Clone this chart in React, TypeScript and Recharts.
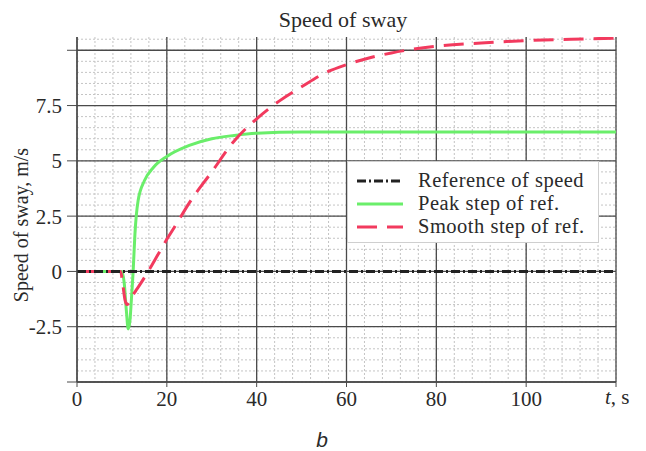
import React from 'react';
import { LineChart, Line, XAxis, YAxis, CartesianGrid, Legend, Customized } from 'recharts';

// Time samples (s) and sway speed (m/s) for each response
const peakTime = [0, 10, 10.5, 11, 11.4, 11.8, 12.1, 12.5, 12.9, 13.6, 15, 17, 20, 25, 30, 35, 40, 50, 60, 80, 100, 120];
const peakSpeed = [0, 0, -0.5, -1.8, -2.6, -2.2, -1.3, 0, 1.7, 3.2, 4.1, 4.7, 5.2, 5.7, 6.0, 6.15, 6.25, 6.3, 6.3, 6.3, 6.3, 6.3];

const smoothTime = [0, 9.7, 10.2, 10.7, 11.1, 11.6, 12.2, 13, 14, 16, 18, 20, 22, 25, 30, 35, 40, 45, 50, 55, 60, 65, 70, 80, 90, 100, 110, 120];
const smoothSpeed = [0, 0, -0.6, -1.3, -1.5, -1.4, -1.15, -0.9, -0.6, 0.05, 0.75, 1.45, 2.1, 3.1, 4.5, 5.9, 6.9, 7.7, 8.35, 8.95, 9.35, 9.65, 9.88, 10.18, 10.33, 10.44, 10.5, 10.55];

const referenceTime = [0, 120];
const referenceSpeed = [0, 0];

// Axis ticks
const xTicks = [0, 20, 40, 60, 80, 100, 120];
const yTicks = [-5, -2.5, 0, 2.5, 5, 7.5, 10];
const xMinor = Array.from({ length: 31 }, (_, i) => i * 4);
const yMinor = Array.from({ length: 32 }, (_, i) => -5 + i * 0.5);

const SERIF = '"Liberation Serif", "Times New Roman", serif';

const seriesStyles = [
  { key: 'reference', name: 'Reference of speed', color: '#222222', dash: '9 3 2 3', width: 3 },
  { key: 'peak', name: 'Peak step of ref.', color: '#6aee6a', dash: undefined, width: 3 },
  { key: 'smooth', name: 'Smooth step of ref.', color: '#f23a5e', dash: '20 10', width: 3 },
];

const toPoints = (ts: number[], vs: number[]) => ts.map((t, i) => ({ t, v: vs[i] }));
const peakData = toPoints(peakTime, peakSpeed);
const smoothData = toPoints(smoothTime, smoothSpeed);
const referenceData = toPoints(referenceTime, referenceSpeed);

const styleOf = (k: string) => seriesStyles.find((s) => s.key === k)!;

const renderLegend = () => (
  <div
    style={{
      width: 252,
      height: 82,
      boxSizing: 'border-box',
      border: '1px solid #cfcfcf',
      background: '#ffffff',
      paddingTop: 7,
    }}
  >
    {seriesStyles.map((s) => (
      <div key={s.key} style={{ display: 'flex', alignItems: 'center', height: 23 }}>
        <svg width={46} height={6} style={{ marginLeft: 9, display: 'block' }}>
          <line x1={0} y1={3} x2={46} y2={3} stroke={s.color} strokeWidth={s.width} strokeDasharray={s.dash} />
        </svg>
        <span
          style={{
            marginLeft: 15,
            fontSize: 20.5,
            letterSpacing: 0.5,
            fontFamily: SERIF,
            color: '#2a2a2a',
            lineHeight: '23px',
            whiteSpace: 'nowrap',
          }}
        >
          {s.name}
        </span>
      </div>
    ))}
  </div>
);

const Annotations = () => (
  <g fontFamily={SERIF} fill="#2a2a2a">
    <text x={343} y={27} fontSize={22} textAnchor="middle">Speed of sway</text>
    <text transform="translate(28,225) rotate(-90)" fontSize={20} textAnchor="middle">Speed of sway, m/s</text>
    <text x={605} y={404} fontSize={21}>
      <tspan fontStyle="italic">t</tspan>, s
    </text>
    <text x={322} y={447} fontSize={21} textAnchor="middle" fontStyle="italic" fontFamily='"Liberation Sans", Arial, sans-serif'>b</text>
  </g>
);

export default function App() {
  const peak = styleOf('peak');
  const smooth = styleOf('smooth');
  const ref = styleOf('reference');
  return (
    <div style={{ position: 'absolute', left: 0, top: 0, width: 646, height: 451, background: '#fff' }}>
      <LineChart width={646} height={451} margin={{ top: 37, right: 30, left: 0, bottom: 0 }}>
        <CartesianGrid
          horizontalValues={yMinor}
          verticalValues={xMinor}
          stroke="#c4c4c4"
          strokeDasharray="2 2"
          strokeWidth={1}
        />
        <CartesianGrid
          horizontalValues={yTicks}
          verticalValues={xTicks}
          stroke="#4a4a4a"
          strokeWidth={1.3}
        />
        <XAxis
          dataKey="t"
          type="number"
          domain={[0, 120]}
          ticks={xTicks}
          interval={0}
          allowDataOverflow
          height={69}
          tickSize={5}
          tickMargin={4}
          tickFormatter={(v: number) => (v === 120 ? '' : String(v))}
          tick={{ fill: '#2a2a2a', fontSize: 21, fontFamily: SERIF }}
          tickLine={{ stroke: '#4a4a4a' }}
          axisLine={{ stroke: '#4a4a4a', strokeWidth: 1.3 }}
        />
        <YAxis
          type="number"
          domain={[-5, 10.6]}
          ticks={yTicks}
          interval={0}
          allowDataOverflow
          width={77}
          tickSize={10}
          tickMargin={5}
          tickFormatter={(v: number) => (v === -5 || v === 10 ? '' : String(v))}
          tick={{ fill: '#2a2a2a', fontSize: 21, fontFamily: SERIF }}
          tickLine={{ stroke: '#4a4a4a' }}
          axisLine={{ stroke: '#4a4a4a', strokeWidth: 1.3 }}
        />
        <Legend
          layout="vertical"
          align="center"
          verticalAlign="middle"
          content={renderLegend}
          wrapperStyle={{ position: 'absolute', left: 347, top: 161, width: 252, height: 82 }}
        />
        <Line
          data={peakData}
          dataKey="v"
          name={peak.name}
          type="monotone"
          stroke={peak.color}
          strokeWidth={peak.width}
          dot={false}
          isAnimationActive={false}
        />
        <Line
          data={smoothData}
          dataKey="v"
          name={smooth.name}
          type="monotone"
          stroke={smooth.color}
          strokeWidth={smooth.width}
          strokeDasharray={smooth.dash}
          dot={false}
          isAnimationActive={false}
        />
        <Line
          data={referenceData}
          dataKey="v"
          name={ref.name}
          type="linear"
          stroke={ref.color}
          strokeWidth={ref.width}
          strokeDasharray={ref.dash}
          dot={false}
          isAnimationActive={false}
        />
        <Customized component={Annotations} />
      </LineChart>
    </div>
  );
}
